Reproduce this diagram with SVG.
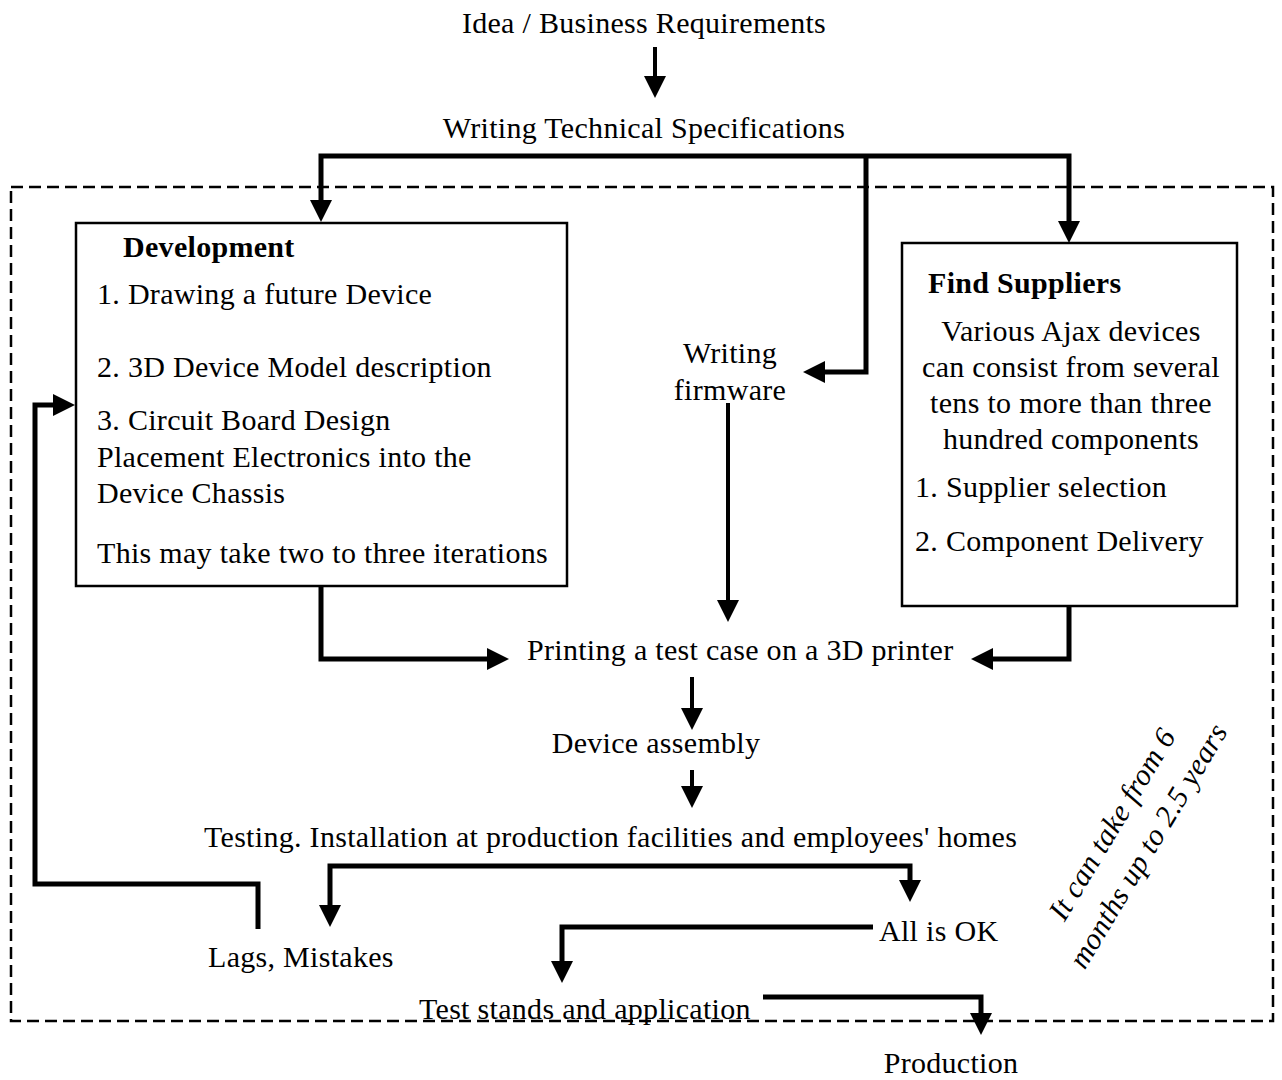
<svg xmlns="http://www.w3.org/2000/svg" width="1282" height="1080" viewBox="0 0 1282 1080">
  <defs>
    <marker id="arrow" viewBox="0 0 22 22" refX="16" refY="11" markerWidth="22" markerHeight="22" markerUnits="userSpaceOnUse" orient="auto">
      <path d="M0,0 L22,11 L0,22 Z" fill="#000"/>
    </marker>
    <style>
      text { font-family: "Liberation Serif", "Times New Roman", serif; font-size: 30px; letter-spacing: 0.3px; fill: #000; }
      .bold { font-weight: bold; }
      .mid { text-anchor: middle; }
      .box { fill: #fff; stroke: #000; stroke-width: 2.5; }
      .frame { fill: none; stroke: #000; stroke-width: 2.5; stroke-dasharray: 12 6; }
      .conn { fill: none; stroke: #000; stroke-width: 5; stroke-linejoin: miter; marker-end: url(#arrow); }
      .thin { stroke-width: 4; }
    </style>
  </defs>
  <rect width="1282" height="1080" fill="#fff"/>

  <!-- dashed frame around the development stages -->
  <rect id="frame" class="frame" x="11" y="187" width="1262" height="834"/>

  <!-- connectors -->
  <g id="connectors">
    <path class="conn thin" d="M655,47 V92"/>
    <path class="conn" d="M866,156 H321 V216"/>
    <path class="conn" d="M866,156 H1069 V237"/>
    <path class="conn" d="M866,156 V372 H809"/>
    <path class="conn thin" d="M728,403 V616"/>
    <path class="conn" d="M321,586 V659 H503"/>
    <path class="conn" d="M1069,606 V659 H977"/>
    <path class="conn thin" d="M692,677 V724"/>
    <path class="conn thin" d="M692,770 V802"/>
    <path class="conn" d="M620,866 H330 V921"/>
    <path class="conn" d="M620,866 H910 V896"/>
    <path class="conn" d="M873,927 H562 V977"/>
    <path class="conn" d="M258,929 V884 H35 V405 H69"/>
    <path class="conn" d="M763,997 H981 V1029"/>
  </g>

  <g id="idea">
    <text class="mid" x="644" y="33">Idea / Business Requirements</text>
  </g>
  <g id="spec">
    <text class="mid" x="644" y="138">Writing Technical Specifications</text>
  </g>

  <g id="development">
    <rect class="box" x="76" y="223" width="491" height="363"/>
    <text class="bold" x="123" y="257">Development</text>
    <text x="97" y="304">1. Drawing a future Device</text>
    <text x="97" y="377">2. 3D Device Model description</text>
    <text x="97" y="430">3. Circuit Board Design</text>
    <text x="97" y="467">Placement Electronics into the</text>
    <text x="97" y="503">Device Chassis</text>
    <text x="97" y="563">This may take two to three iterations</text>
  </g>

  <g id="firmware">
    <text class="mid" x="730" y="363">Writing</text>
    <text class="mid" x="730" y="400">firmware</text>
  </g>

  <g id="suppliers">
    <rect class="box" x="902" y="243" width="335" height="363"/>
    <text class="bold" x="928" y="293">Find Suppliers</text>
    <text class="mid" x="1071" y="341">Various Ajax devices</text>
    <text class="mid" x="1071" y="377">can consist from several</text>
    <text class="mid" x="1071" y="413">tens to more than three</text>
    <text class="mid" x="1071" y="449">hundred components</text>
    <text x="915" y="497">1. Supplier selection</text>
    <text x="915" y="551">2. Component Delivery</text>
  </g>

  <g id="printing">
    <text x="527" y="660">Printing a test case on a 3D printer</text>
  </g>
  <g id="assembly">
    <text class="mid" x="656" y="753">Device assembly</text>
  </g>
  <g id="testing">
    <text x="204" y="847">Testing. Installation at production facilities and employees' homes</text>
  </g>
  <g id="ok">
    <text x="879" y="941">All is OK</text>
  </g>
  <g id="lags">
    <text x="208" y="967">Lags, Mistakes</text>
  </g>
  <g id="stands">
    <text x="419" y="1019">Test stands and application</text>
  </g>
  <g id="production">
    <text class="mid" x="951" y="1073">Production</text>
  </g>

  <g id="duration" transform="translate(1130,835) rotate(-59)">
    <text class="mid" font-style="italic" x="0" y="-11">It can take from 6</text>
    <text class="mid" font-style="italic" x="0" y="31">months up to 2.5 years</text>
  </g>
</svg>
